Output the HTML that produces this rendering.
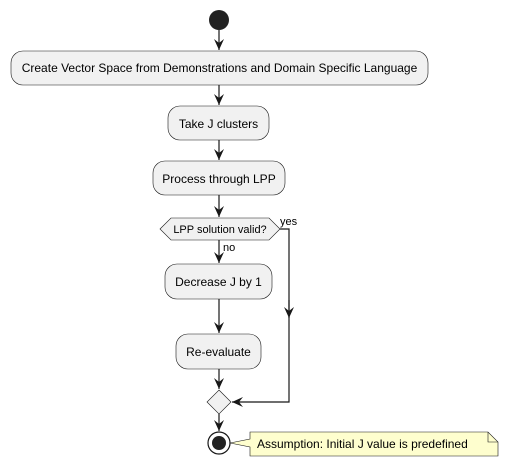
<!DOCTYPE html>
<html><head><style>body{margin:0;background:#fff}</style></head><body>
<svg width="510" height="468" viewBox="0 0 510 468" xmlns="http://www.w3.org/2000/svg" font-family="Liberation Sans, sans-serif" font-size="12" fill="#000">
<defs><marker id="a" viewBox="0 0 12 12" refX="11" refY="6" markerWidth="12" markerHeight="12" markerUnits="userSpaceOnUse" orient="auto"><path d="M0,1 L11,6 L0,11 L4,6 Z" fill="#181818"/></marker></defs>
<g stroke="#181818" stroke-width="1.2" fill="none">
<line x1="219" y1="30" x2="219" y2="50" marker-end="url(#a)"/>
<line x1="219" y1="85" x2="219" y2="105" marker-end="url(#a)"/>
<line x1="219" y1="140" x2="219" y2="160" marker-end="url(#a)"/>
<line x1="219" y1="195" x2="219" y2="217" marker-end="url(#a)"/>
<line x1="219" y1="240" x2="219" y2="263" marker-end="url(#a)"/>
<line x1="219" y1="299" x2="219" y2="333" marker-end="url(#a)"/>
<line x1="219" y1="369" x2="219" y2="389" marker-end="url(#a)"/>
<line x1="219" y1="414" x2="219" y2="431" marker-end="url(#a)"/>
<polyline points="280,229 289,229 289,402 232,402" marker-end="url(#a)"/>
<line x1="289" y1="300" x2="289" y2="318" marker-end="url(#a)"/>
</g>
<circle cx="219" cy="20" r="10" fill="#222"/>
<g fill="#f1f1f1" stroke="#181818" stroke-width="0.6">
<rect x="11" y="51" width="417" height="34" rx="12"/>
<rect x="168" y="106" width="101" height="34" rx="12"/>
<rect x="153" y="161" width="132" height="34" rx="12"/>
<polygon points="160,229 171,218 269,218 280,229 269,240 171,240"/>
<rect x="165" y="264" width="107" height="35" rx="12"/>
<rect x="176" y="334" width="85" height="35" rx="12"/>
<polygon points="219,390 231,402 219,414 207,402"/>
</g>
<circle cx="219" cy="443" r="11" fill="#fff" stroke="#181818" stroke-width="1.2"/>
<circle cx="219" cy="443" r="7" fill="#222"/>
<path d="M250,432 L488,432 L498,442 L498,456 L250,456 L250,447 L230,443 L250,439 Z" fill="#fefece" stroke="#181818" stroke-width="0.6"/>
<path d="M488,432 L488,442 L498,442" fill="none" stroke="#181818" stroke-width="0.6"/>
<g font-size="12" text-anchor="middle">
<text x="219.5" y="72">Create Vector Space from Demonstrations and Domain Specific Language</text>
<text x="218.5" y="128">Take J clusters</text>
<text x="219" y="183">Process through LPP</text>
<text x="218.5" y="286">Decrease J by 1</text>
<text x="218.5" y="356">Re-evaluate</text>
</g>
<text x="220" y="233" font-size="11" text-anchor="middle">LPP solution valid?</text>
<text x="280" y="225" font-size="11">yes</text>
<text x="223" y="251" font-size="11">no</text>
<text x="257" y="448" font-size="12">Assumption: Initial J value is predefined</text>
</svg>
</body></html>
